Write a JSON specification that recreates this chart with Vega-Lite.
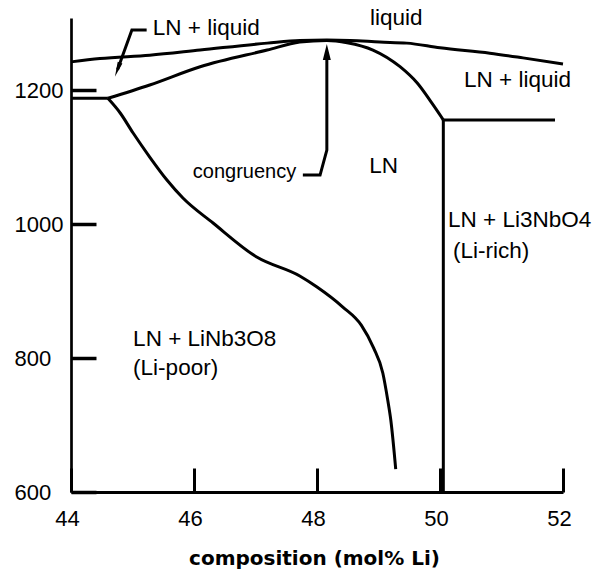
{
  "$schema": "https://vega.github.io/schema/vega-lite/v6.json",
  "width": 492,
  "height": 474,
  "autosize": {"type": "none"},
  "padding": {"left": 71, "top": 18, "right": 33, "bottom": 81},
  "background": "white",
  "config": {"view": {"stroke": null}, "axis": {"grid": false}},
  "datasets": {
    "curves": [
      {"s": "liquidus", "o": 1, "x": 44, "y": 1242},
      {"s": "liquidus", "o": 2, "x": 44.47, "y": 1247},
      {"s": "liquidus", "o": 3, "x": 45.28, "y": 1252},
      {"s": "liquidus", "o": 4, "x": 46.1, "y": 1259.7},
      {"s": "liquidus", "o": 5, "x": 47.19, "y": 1270},
      {"s": "liquidus", "o": 6, "x": 47.72, "y": 1274},
      {"s": "liquidus", "o": 7, "x": 48.16, "y": 1274.5},
      {"s": "liquidus", "o": 8, "x": 48.54, "y": 1274},
      {"s": "liquidus", "o": 9, "x": 49.02, "y": 1271.6},
      {"s": "liquidus", "o": 10, "x": 49.46, "y": 1270},
      {"s": "liquidus", "o": 11, "x": 50.0, "y": 1263},
      {"s": "liquidus", "o": 12, "x": 50.81, "y": 1255},
      {"s": "liquidus", "o": 13, "x": 51.35, "y": 1248},
      {"s": "liquidus", "o": 14, "x": 52.0, "y": 1239},
      {"s": "solidus", "o": 1, "x": 44.6, "y": 1187.6},
      {"s": "solidus", "o": 2, "x": 45.28, "y": 1207.5},
      {"s": "solidus", "o": 3, "x": 46.1, "y": 1234.8},
      {"s": "solidus", "o": 4, "x": 47.19, "y": 1259.7},
      {"s": "solidus", "o": 5, "x": 47.72, "y": 1271.6},
      {"s": "solidus", "o": 6, "x": 48.16, "y": 1274},
      {"s": "solidus", "o": 7, "x": 48.49, "y": 1270.6},
      {"s": "solidus", "o": 8, "x": 48.91, "y": 1259.7},
      {"s": "solidus", "o": 9, "x": 49.35, "y": 1234.8},
      {"s": "solidus", "o": 10, "x": 49.63, "y": 1210.4},
      {"s": "solidus", "o": 11, "x": 49.84, "y": 1184.3},
      {"s": "solidus", "o": 12, "x": 50.02, "y": 1160.1},
      {"s": "solidus", "o": 13, "x": 50.054, "y": 1155.2},
      {"s": "solvus", "o": 1, "x": 44.6, "y": 1187.6},
      {"s": "solvus", "o": 2, "x": 44.8, "y": 1165.7},
      {"s": "solvus", "o": 3, "x": 45.01, "y": 1135.8},
      {"s": "solvus", "o": 4, "x": 45.28, "y": 1100},
      {"s": "solvus", "o": 5, "x": 45.56, "y": 1065.7},
      {"s": "solvus", "o": 6, "x": 45.82, "y": 1038.8},
      {"s": "solvus", "o": 7, "x": 46.31, "y": 1001.5},
      {"s": "solvus", "o": 8, "x": 47.02, "y": 950.7},
      {"s": "solvus", "o": 9, "x": 47.72, "y": 922.4},
      {"s": "solvus", "o": 10, "x": 48.0, "y": 906},
      {"s": "solvus", "o": 11, "x": 48.42, "y": 876.1},
      {"s": "solvus", "o": 12, "x": 48.72, "y": 849},
      {"s": "solvus", "o": 13, "x": 48.92, "y": 815},
      {"s": "solvus", "o": 14, "x": 49.07, "y": 777.6},
      {"s": "solvus", "o": 15, "x": 49.15, "y": 737.3},
      {"s": "solvus", "o": 16, "x": 49.2, "y": 707.5},
      {"s": "solvus", "o": 17, "x": 49.28, "y": 634.3}
    ],
    "segments": [
      {"s": "eutL", "o": 1, "x": 44, "y": 1187.6},
      {"s": "eutL", "o": 2, "x": 44.6, "y": 1187.6},
      {"s": "eutR", "o": 1, "x": 50.054, "y": 1155.2},
      {"s": "eutR", "o": 2, "x": 51.87, "y": 1155.2},
      {"s": "vert", "o": 1, "x": 50.054, "y": 1155.2},
      {"s": "vert", "o": 2, "x": 50.054, "y": 600},
      {"s": "arrowC", "o": 1, "x": 47.77, "y": 1073.1},
      {"s": "arrowC", "o": 2, "x": 48.05, "y": 1073.1},
      {"s": "arrowC", "o": 3, "x": 48.16, "y": 1110.4},
      {"s": "arrowC", "o": 4, "x": 48.16, "y": 1256.7},
      {"s": "arrowL", "o": 1, "x": 45.23, "y": 1289.6},
      {"s": "arrowL", "o": 2, "x": 44.99, "y": 1289.6},
      {"s": "arrowL", "o": 3, "x": 44.756, "y": 1230.4}
    ],
    "heads": [
      {"a": "up", "x": 48.16, "y": 1256.7},
      {"a": "diag", "x": 44.756, "y": 1230.4}
    ],
    "labels": [
      {"t": "liquid", "x": 48.86, "y": 1297},
      {"t": "LN + liquid", "x": 45.33, "y": 1282},
      {"t": "LN + liquid", "x": 50.39, "y": 1204.5},
      {"t": "congruency", "x": 45.98, "y": 1068.7},
      {"t": "LN", "x": 48.85, "y": 1076.1},
      {"t": "LN + Li3NbO4", "x": 50.13, "y": 995.5},
      {"t": "(Li-rich)", "x": 50.21, "y": 948.8},
      {"t": "LN + LiNb3O8", "x": 45.01, "y": 818.4},
      {"t": "(Li-poor)", "x": 45.01, "y": 774.6}
    ]
  },
  "encoding": {
    "x": {
      "field": "x",
      "type": "quantitative",
      "scale": {"domain": [44, 52], "nice": false, "zero": false},
      "axis": {
        "values": [44, 46, 48, 50, 52],
        "title": "composition (mol% Li)",
        "titleFont": "DejaVu Sans",
        "titleFontWeight": "bold",
        "titleFontSize": 20,
        "titleColor": "black",
        "titleBaseline": "alphabetic",
        "titleY": 72,
        "titleX": 243,
        "titleAlign": "center",
        "labelFont": "Liberation Sans",
        "labelFontSize": 22,
        "labelColor": "black",
        "labelFlush": false,
        "labelOverlap": false,
        "labelOffset": -4,
        "labelPadding": 40,
        "tickSize": -24,
        "tickWidth": 3,
        "tickColor": "black",
        "domainColor": "black",
        "domainWidth": 3
      }
    },
    "y": {
      "field": "y",
      "type": "quantitative",
      "scale": {"domain": [600, 1307.5], "nice": false, "zero": false},
      "axis": {
        "values": [600, 800, 1000, 1200],
        "format": "d",
        "title": null,
        "labelFont": "Liberation Sans",
        "labelFontSize": 22,
        "labelColor": "black",
        "labelAlign": "left",
        "labelFlush": false,
        "labelOverlap": false,
        "labelPadding": 82,
        "tickSize": -25,
        "tickWidth": 3.5,
        "tickColor": "black",
        "domainColor": "black",
        "domainWidth": 2.7
      }
    }
  },
  "layer": [
    {
      "data": {"name": "curves"},
      "mark": {"type": "line", "color": "black", "strokeWidth": 3, "strokeJoin": "round", "interpolate": "monotone"},
      "encoding": {
        "detail": {"field": "s", "type": "nominal"},
        "order": {"field": "o", "type": "quantitative"}
      }
    },
    {
      "data": {"name": "segments"},
      "mark": {"type": "line", "color": "black", "strokeWidth": 3, "strokeJoin": "miter"},
      "encoding": {
        "detail": {"field": "s", "type": "nominal"},
        "order": {"field": "o", "type": "quantitative"}
      }
    },
    {
      "data": {"name": "heads"},
      "transform": [{"filter": "datum.a == 'up'"}],
      "mark": {"type": "point", "shape": "M0,-1L0.5,1L-0.5,1Z", "size": 256, "filled": true, "color": "black", "opacity": 1, "angle": 0}
    },
    {
      "data": {"name": "heads"},
      "transform": [{"filter": "datum.a == 'diag'"}],
      "mark": {"type": "point", "shape": "M0,-1L0.33,1L-0.33,1Z", "size": 225, "filled": true, "color": "black", "opacity": 1, "angle": 200}
    },
    {
      "data": {"name": "labels"},
      "transform": [{"filter": "datum.t != 'congruency'"}],
      "mark": {"type": "text", "align": "left", "baseline": "alphabetic", "font": "Liberation Sans", "fontSize": 22.5, "color": "black"},
      "encoding": {"text": {"field": "t", "type": "nominal"}}
    },
    {
      "data": {"name": "labels"},
      "transform": [{"filter": "datum.t == 'congruency'"}],
      "mark": {"type": "text", "align": "left", "baseline": "alphabetic", "font": "Liberation Sans", "fontSize": 20, "color": "black"},
      "encoding": {"text": {"field": "t", "type": "nominal"}}
    }
  ]
}
